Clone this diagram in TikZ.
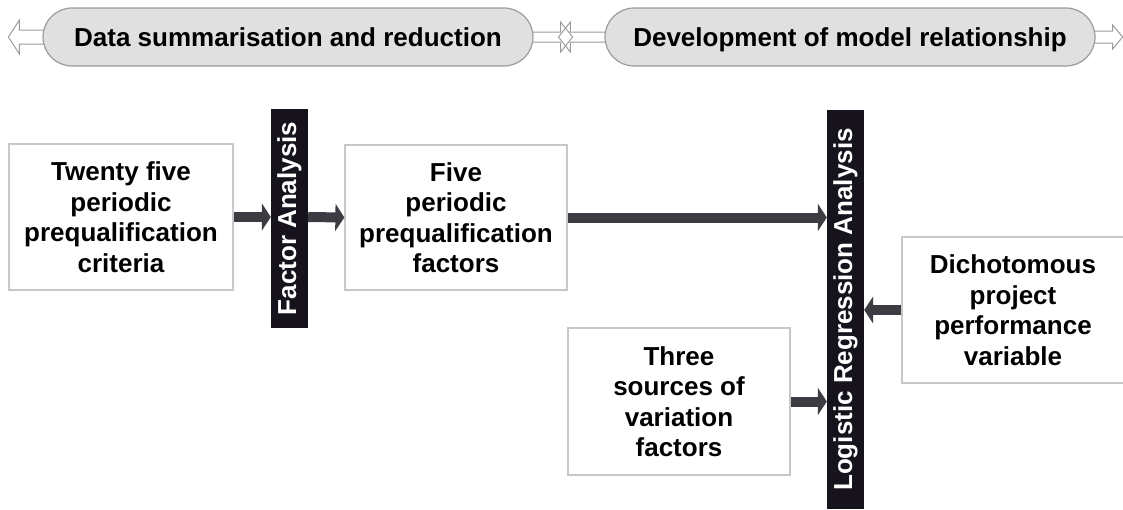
\documentclass[tikz,border=0pt]{standalone}
\usepackage{fontspec}
\setmainfont{Liberation Sans}
\usetikzlibrary{arrows.meta,calc,backgrounds}
\definecolor{barblack}{HTML}{17131C}
\definecolor{arrowgray}{HTML}{3E3B43}
\definecolor{pillfill}{HTML}{E0E0E0}
\definecolor{pillline}{HTML}{9C9C9C}
\definecolor{boxline}{HTML}{C8C8C8}
\tikzset{
  txt/.style={font=\fontsize{26}{30.5}\selectfont\bfseries, align=center},
  pill/.style={txt, draw=pillline, fill=pillfill, line width=1.2pt,
    rounded corners=29pt, minimum width=490pt, minimum height=58pt, inner sep=0pt,
    text height=18.6pt, text depth=0pt},
  itembox/.style={txt, draw=boxline, line width=1.3pt, fill=white, inner sep=0pt},
  bar/.style={txt, text=white, fill=barblack, rotate=90, minimum height=37pt, inner sep=0pt},
  bigarrow/.style={draw=arrowgray, line width=10pt,
    -{Triangle[length=9pt,width=27pt]}},
  hollowfill/.style={fill=white, draw=none},
  hollowline/.style={draw=pillline, line width=1pt, line join=miter},
}
\begin{document}
\begin{tikzpicture}[x=1pt, y=-1pt]
\useasboundingbox (0,0) rectangle (1123,509);

% stage banners
\node[pill] (p1) at (288,37) {Data summarisation and reduction};
\node[pill] (p2) at (850,37) {Development of model relationship};

% hollow arrows behind the banners
\begin{scope}[on background layer]
  \foreach \s in {hollowfill, hollowline} {
    % pointing left, out of the first banner
    \path[\s] ($(p1.west)+(8,-7)$) -- ++(-31,0) -- ++(0,-10) -- ++(-11,17)
      -- ++(11,17) -- ++(0,-10) -- ++(31,0);
    % pointing right, out of the first banner
    \path[\s] ($(p1.east)+(-8,-5)$) -- ++(35,0) -- ++(0,-10) -- ++(12,15)
      -- ++(-12,15) -- ++(0,-10) -- ++(-35,0);
    % pointing left, out of the second banner
    \path[\s] ($(p2.west)+(8,-5)$) -- ++(-42,0) -- ++(0,-10) -- ++(-12,15)
      -- ++(12,15) -- ++(0,-10) -- ++(42,0);
    % pointing right, out of the second banner
    \path[\s] ($(p2.east)+(-8,-6)$) -- ++(25,0) -- ++(0,-6) -- ++(10,12)
      -- ++(-10,12) -- ++(0,-6) -- ++(-25,0);
  }
\end{scope}

% boxes
\node[itembox, minimum width=224pt, minimum height=146pt] (crit) at (121,217)
  {Twenty five\\periodic\\prequalification\\criteria};
\node[itembox, minimum width=222pt, minimum height=145pt] (five) at (456,217.5)
  {Five\\periodic\\prequalification\\factors};
\node[itembox, minimum width=222pt, minimum height=147pt] (three) at (679,401.5)
  {Three\\sources of\\variation\\factors};
\node[itembox, minimum width=222pt, minimum height=146pt] (dich) at (1013,310)
  {Dichotomous\\project\\performance\\variable};

% analysis bars (rotated: north is the left side, south the right side)
\node[bar, minimum width=219pt] (fa) at (289.5,218.5) {Factor Analysis};
\node[bar, minimum width=399pt] (lr) at (845.5,309.5) {Logistic Regression Analysis};

% connectors
\draw[bigarrow] (crit.east) -- (fa.north |- crit.east);
\draw[bigarrow] (fa.south |- crit.east) -- (five.west);
\draw[bigarrow] (five.east) -- (lr.north |- five.east);
\draw[bigarrow] (three.east) -- (lr.north |- three.east);
\draw[bigarrow] (dich.west) -- (lr.south |- dich.west);
\end{tikzpicture}
\end{document}
